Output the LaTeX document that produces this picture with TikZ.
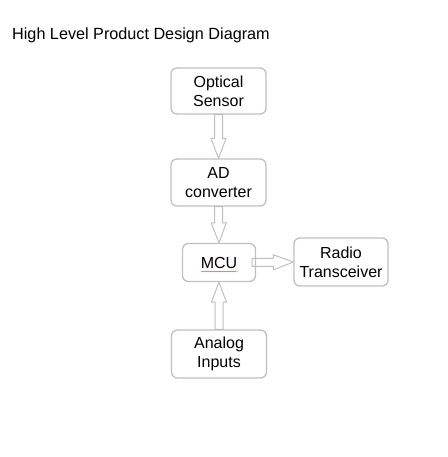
\documentclass[tikz,border=0pt]{standalone}
\usepackage{fontspec}
\setmainfont{Liberation Sans}
\usetikzlibrary{calc,decorations.pathmorphing}

\definecolor{boxgray}{RGB}{192,192,192}

\tikzset{
  block/.style={draw=boxgray, line width=1.3pt, rounded corners=6pt, align=center,
    inner sep=0pt, font=\fontsize{16}{19}\selectfont},
  blockarrow/.style={draw=boxgray, line width=1pt, line join=miter, to path={
    ($(\tikztostart)!4pt!90:(\tikztotarget)$) --
    ($($(\tikztotarget)!20pt!(\tikztostart)$)!4pt!-90:(\tikztostart)$) --
    ($($(\tikztotarget)!20pt!(\tikztostart)$)!7.5pt!-90:(\tikztostart)$) --
    (\tikztotarget) --
    ($($(\tikztotarget)!20pt!(\tikztostart)$)!7.5pt!90:(\tikztostart)$) --
    ($($(\tikztotarget)!20pt!(\tikztostart)$)!4pt!90:(\tikztostart)$) --
    ($(\tikztostart)!4pt!-90:(\tikztotarget)$) -- cycle}}
}

\begin{document}
\begin{tikzpicture}[x=1pt,y=1pt]
\useasboundingbox (0,0) rectangle (447,-457);

\node[anchor=west, inner sep=0pt, font=\fontsize{16.2}{19}\selectfont] (title) at (12,-35) {High Level Product Design Diagram};

\node[block, minimum width=95pt, minimum height=46pt] (optical) at (218.5,-91) {Optical\\Sensor};
\node[block, minimum width=95pt, minimum height=47pt] (adc) at (218.5,-182.5) {AD\\converter};
\node[block, minimum width=73pt, minimum height=38pt] (mcu) at (219,-262.5) {MCU};
\node[block, minimum width=94pt, minimum height=48pt] (radio) at (341,-262) {Radio\\Transceiver};
\node[block, minimum width=95pt, minimum height=48pt] (analog) at (219,-354) {Analog\\Inputs};

%spell check underline
\draw[red!80, line width=0.3pt, decorate, decoration={snake, amplitude=0.5pt, segment length=2pt}]
  ($(mcu.center)+(-18,-9)$) -- ($(mcu.center)+(18,-9)$);

\draw[blockarrow] (optical.south) to (adc.north);
\draw[blockarrow] (adc.south) to (mcu.north);
\draw[blockarrow] ($(mcu.east)+(-4,0)$) to (radio.west);
\draw[blockarrow] (analog.north) to (mcu.south);

\end{tikzpicture}
\end{document}
